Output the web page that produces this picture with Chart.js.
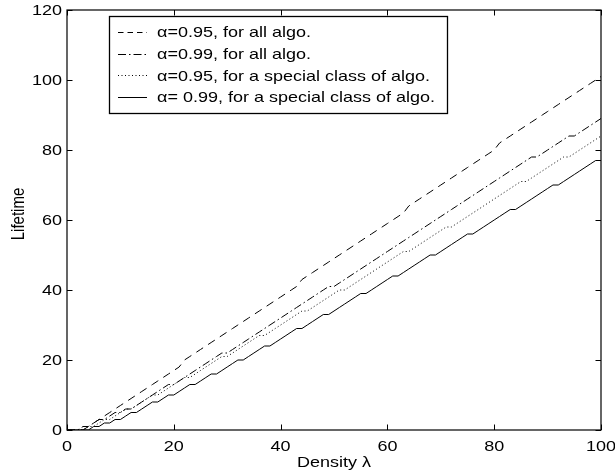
<!DOCTYPE html>
<html>
<head>
<meta charset="utf-8">
<title>Lifetime vs density</title>
<script src="https://cdn.jsdelivr.net/npm/chart.js@4/dist/chart.umd.min.js"></script>
<style>
  html, body { margin: 0; padding: 0; background: #ffffff; }
  #plot { display: block; }
</style>
</head>
<body>
<canvas id="plot" width="615" height="476"></canvas>
<script>
// Node density (lambda) sampled at every integer value
const density = [
  0, 1, 2, 3, 4, 5, 6, 7, 8, 9,
  10, 11, 12, 13, 14, 15, 16, 17, 18, 19,
  20, 21, 22, 23, 24, 25, 26, 27, 28, 29,
  30, 31, 32, 33, 34, 35, 36, 37, 38, 39,
  40, 41, 42, 43, 44, 45, 46, 47, 48, 49,
  50, 51, 52, 53, 54, 55, 56, 57, 58, 59,
  60, 61, 62, 63, 64, 65, 66, 67, 68, 69,
  70, 71, 72, 73, 74, 75, 76, 77, 78, 79,
  80, 81, 82, 83, 84, 85, 86, 87, 88, 89,
  90, 91, 92, 93, 94, 95, 96, 97, 98, 99,
  100
];

// Lifetime, alpha = 0.95, all algorithms
const lifeAll95 = [
  0, 0, 0, 0, 1, 2, 3, 4, 5, 6,
  7, 8, 9, 10, 11, 12, 13, 14, 15, 16,
  17, 18, 20, 21, 22, 23, 24, 25, 26, 27,
  28, 29, 30, 31, 32, 33, 34, 35, 36, 37,
  38, 39, 40, 41, 43, 44, 45, 46, 47, 48,
  49, 50, 51, 52, 53, 54, 55, 56, 57, 58,
  59, 60, 61, 62, 64, 65, 66, 67, 68, 69,
  70, 71, 72, 73, 74, 75, 76, 77, 78, 79,
  80, 82, 83, 84, 85, 86, 87, 88, 89, 90,
  91, 92, 93, 94, 95, 96, 97, 98, 99, 100,
  101
];

// Lifetime, alpha = 0.99, all algorithms
const lifeAll99 = [
  0, 0, 0, 1, 1, 2, 3, 3, 4, 5,
  5, 6, 6, 7, 8, 9, 10, 11, 12, 13,
  13, 14, 15, 16, 17, 18, 19, 20, 21, 22,
  22, 23, 24, 25, 26, 27, 28, 29, 30, 31,
  32, 33, 34, 35, 36, 37, 38, 39, 40, 41,
  41, 42, 43, 44, 45, 46, 47, 48, 49, 50,
  51, 52, 53, 54, 55, 56, 57, 58, 59, 60,
  61, 62, 63, 64, 65, 66, 67, 68, 69, 70,
  71, 72, 73, 74, 75, 76, 77, 78, 78, 79,
  80, 81, 82, 83, 84, 84, 85, 86, 87, 88,
  89
];

// Lifetime, alpha = 0.95, special class of algorithms
const lifeSpecial95 = [
  0, 0, 0, 0, 1, 1, 2, 3, 3, 4,
  5, 6, 6, 7, 8, 9, 10, 10, 11, 12,
  13, 14, 15, 15, 16, 17, 18, 19, 20, 21,
  21, 22, 23, 24, 25, 26, 27, 27, 28, 29,
  30, 31, 32, 33, 34, 34, 35, 36, 37, 38,
  39, 40, 40, 41, 42, 43, 44, 45, 46, 47,
  48, 49, 50, 51, 51, 52, 53, 54, 55, 56,
  57, 58, 58, 59, 60, 61, 62, 63, 64, 65,
  66, 67, 68, 69, 70, 71, 71, 72, 73, 74,
  75, 76, 77, 78, 78, 79, 80, 81, 82, 83,
  84
];

// Lifetime, alpha = 0.99, special class of algorithms
const lifeSpecial99 = [
  0, 0, 0, 0, 0, 1, 1, 2, 2, 3,
  3, 4, 5, 5, 6, 7, 8, 8, 9, 10,
  10, 11, 12, 13, 13, 14, 15, 16, 16, 17,
  18, 19, 20, 20, 21, 22, 23, 24, 24, 25,
  26, 27, 28, 29, 29, 30, 31, 32, 33, 33,
  34, 35, 36, 37, 38, 39, 39, 40, 41, 42,
  43, 44, 44, 45, 46, 47, 48, 49, 50, 50,
  51, 52, 53, 54, 55, 56, 56, 57, 58, 59,
  60, 61, 62, 63, 63, 64, 65, 66, 67, 68,
  69, 70, 70, 71, 72, 73, 74, 75, 76, 77,
  77
];

const seriesLabels = [
  'α=0.95, for all algo.',
  'α=0.99, for all algo.',
  'α=0.95, for a special class of algo.',
  'α= 0.99, for a special class of algo.'
];

const xTickValues = [0, 20, 40, 60, 80, 100];
const yTickValues = [0, 20, 40, 60, 80, 100, 120];
const xAxisTitle = 'Density λ';
const yAxisTitle = 'Lifetime';

// Line styles: dashed, dash-dot, dotted, solid
const lineDashes = [[8, 6], [8, 3, 1.5, 3], [1, 2.5], []];
const legendDashes = [[5.5, 4], [8, 3, 1.5, 3], [1, 2.5], []];

const FONT = '15px "Liberation Sans", Arial, Helvetica, sans-serif';
const STRETCH = 1.2;   // type is drawn slightly wide

function toPoints(values) {
  return values.map((v, i) => ({ x: density[i], y: v }));
}

const seriesValues = [lifeAll95, lifeAll99, lifeSpecial95, lifeSpecial99];

const datasets = seriesValues.map((vals, k) => ({
  label: seriesLabels[k],
  data: toPoints(vals),
  borderColor: '#000000',
  backgroundColor: '#000000',
  borderWidth: 1,
  borderDash: lineDashes[k],
  pointRadius: 0,
  tension: 0,
  fill: false
}));

function wideText(ctx, str, x, y, align, rotate) {
  ctx.save();
  ctx.translate(x, y);
  ctx.scale(STRETCH, 1);
  if (rotate) ctx.rotate(-Math.PI / 2);
  ctx.textAlign = align;
  ctx.textBaseline = 'alphabetic';
  ctx.fillText(str, 0, 0);
  ctx.restore();
}

// Frame, inward ticks, tick labels, axis titles and the boxed legend
const matlabAxes = {
  id: 'matlabAxes',
  afterDraw(chart) {
    const ctx = chart.ctx;
    const area = chart.chartArea;
    const xs = chart.scales.x;
    const ys = chart.scales.y;
    const TICK = 5.5;

    ctx.save();
    ctx.strokeStyle = '#000000';
    ctx.fillStyle = '#000000';
    ctx.lineWidth = 1.2;
    ctx.setLineDash([]);

    // frame
    ctx.strokeRect(area.left, area.top, area.right - area.left, area.bottom - area.top);

    // ticks on all four sides, pointing inward
    ctx.lineWidth = 1;
    ctx.beginPath();
    xTickValues.forEach(v => {
      const px = Math.round(xs.getPixelForValue(v)) + 0.5;
      ctx.moveTo(px, area.bottom);
      ctx.lineTo(px, area.bottom - TICK);
      ctx.moveTo(px, area.top);
      ctx.lineTo(px, area.top + TICK);
    });
    yTickValues.forEach(v => {
      const py = Math.round(ys.getPixelForValue(v)) + 0.5;
      ctx.moveTo(area.left, py);
      ctx.lineTo(area.left + TICK, py);
      ctx.moveTo(area.right, py);
      ctx.lineTo(area.right - TICK, py);
    });
    ctx.stroke();

    // tick labels
    ctx.font = FONT;
    xTickValues.forEach(v => {
      wideText(ctx, String(v), xs.getPixelForValue(v), area.bottom + 21, 'center', false);
    });
    yTickValues.forEach(v => {
      wideText(ctx, String(v), area.left - 5, ys.getPixelForValue(v) + 5.3, 'right', false);
    });

    // axis titles
    wideText(ctx, xAxisTitle, (area.left + area.right) / 2, area.bottom + 37, 'center', false);
    wideText(ctx, yAxisTitle, 24, (area.top + area.bottom) / 2 - 6, 'center', true);

    // legend box
    const box = { x: 109.5, y: 16.5, w: 338, h: 97 };
    ctx.fillStyle = '#ffffff';
    ctx.fillRect(box.x, box.y, box.w, box.h);
    ctx.strokeStyle = '#000000';
    ctx.lineWidth = 1.3;
    ctx.strokeRect(box.x, box.y, box.w, box.h);

    const rowCenters = [32, 53.7, 75.3, 97];
    chart.data.datasets.forEach((ds, k) => {
      const cy = rowCenters[k];
      ctx.save();
      ctx.strokeStyle = ds.borderColor;
      ctx.lineWidth = 1;
      ctx.setLineDash(legendDashes[k]);
      ctx.beginPath();
      ctx.moveTo(118, Math.round(cy) + 0.5);
      ctx.lineTo(147, Math.round(cy) + 0.5);
      ctx.stroke();
      ctx.restore();
      ctx.fillStyle = '#000000';
      ctx.font = FONT;
      wideText(ctx, ds.label, 157, cy + 5.3, 'left', false);
    });

    ctx.restore();
  }
};

new Chart(document.getElementById('plot'), {
  type: 'line',
  data: { datasets },
  options: {
    responsive: false,
    animation: false,
    devicePixelRatio: 1,
    layout: { padding: { left: 0, right: 14, top: 10, bottom: 0 } },
    plugins: {
      legend: { display: false },
      tooltip: { enabled: false }
    },
    scales: {
      x: {
        type: 'linear',
        min: 0,
        max: 100,
        afterBuildTicks: s => { s.ticks = xTickValues.map(v => ({ value: v })); },
        ticks: { display: false },
        grid: { display: false, drawTicks: false },
        border: { display: false },
        afterFit: s => { s.height = 46; }
      },
      y: {
        type: 'linear',
        min: 0,
        max: 120,
        afterBuildTicks: s => { s.ticks = yTickValues.map(v => ({ value: v })); },
        ticks: { display: false },
        grid: { display: false, drawTicks: false },
        border: { display: false },
        afterFit: s => { s.width = 67; }
      }
    }
  },
  plugins: [matlabAxes]
});
</script>
</body>
</html>
